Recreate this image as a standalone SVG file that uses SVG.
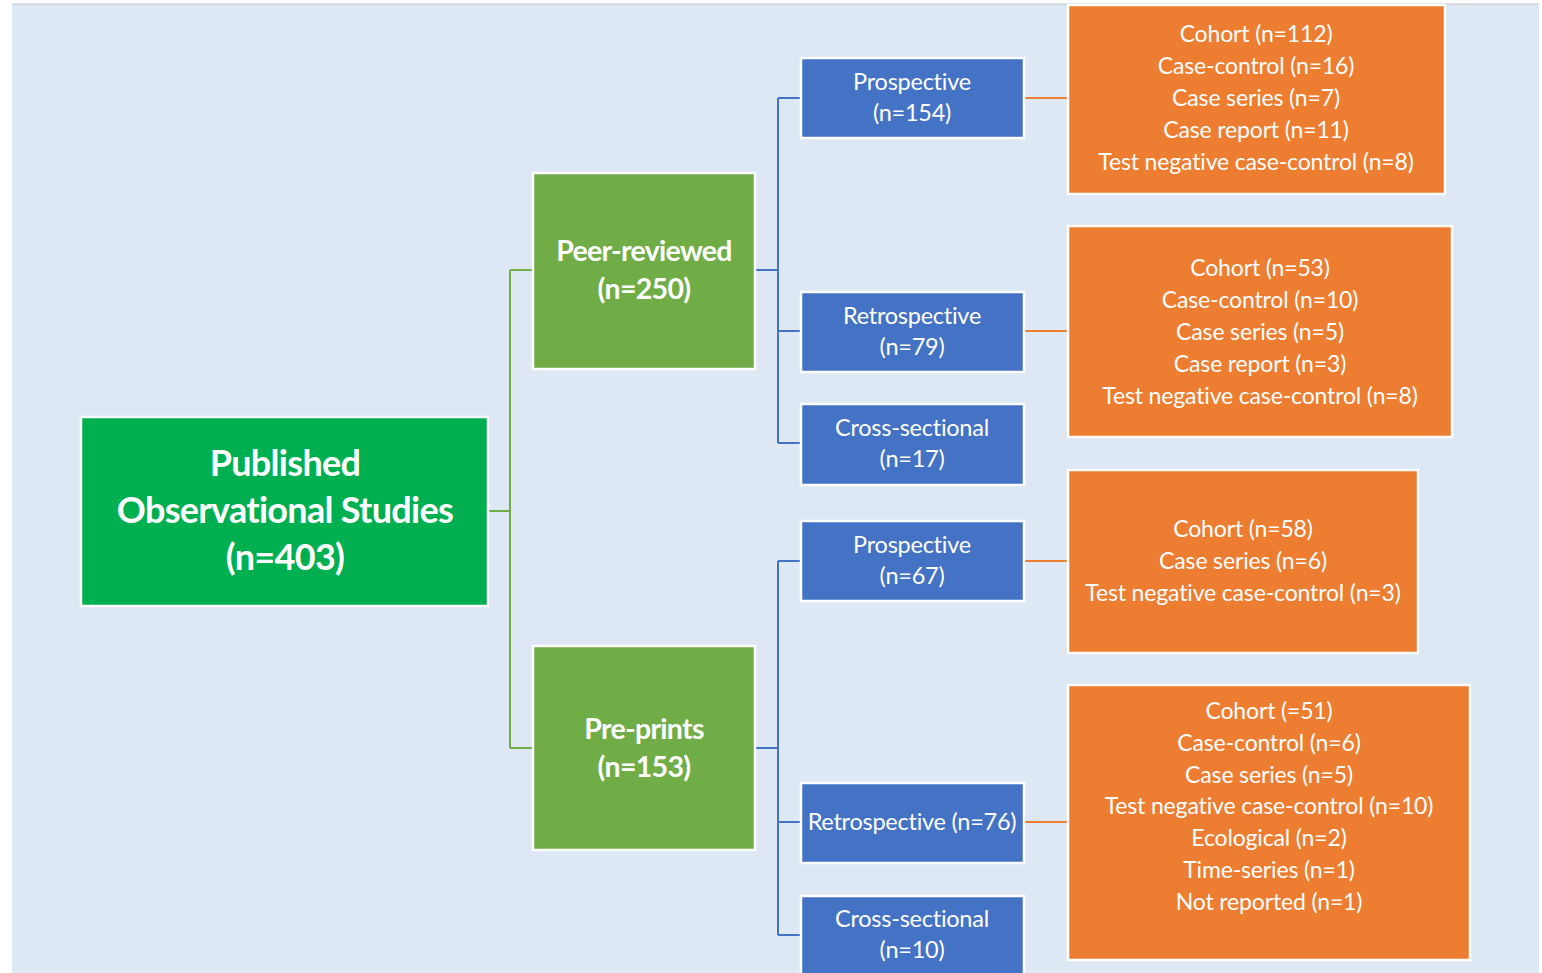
<svg xmlns="http://www.w3.org/2000/svg" width="1542" height="973" viewBox="0 0 1542 973">
  <style>
    .bg { fill: #dde8f4; }
    .box { stroke: #ffffff; stroke-width: 2.5; }
    .root { fill: #00b050; }
    .cat { fill: #70ad47; }
    .design { fill: #4472c4; }
    .types { fill: #ed7d31; }
    text { font-family: Lato, "Open Sans", "Liberation Sans", sans-serif; fill: #ffffff; text-anchor: middle; }
    .t-root { font-size: 36px; font-weight: bold; letter-spacing: -0.7px; }
    .t-cat { font-size: 28.5px; font-weight: bold; letter-spacing: -0.7px; }
    .t-design { font-size: 23.5px; letter-spacing: -0.25px; }
    .t-types { font-size: 23px; letter-spacing: -0.15px; }
    .c-green { stroke: #70ad47; stroke-width: 2; fill: none; }
    .c-blue { stroke: #4472c4; stroke-width: 2; fill: none; }
    .c-orange { stroke: #ed7d31; stroke-width: 2; fill: none; }
  </style>

  <!-- canvas -->
  <rect x="0" y="0" width="1542" height="973" fill="#ffffff"/>
  <rect class="bg" x="12" y="4" width="1527" height="969"/>
  <line x1="12" y1="4" x2="1539" y2="4" stroke="#c0c4c8" stroke-width="1"/>

  <!-- connectors -->
  <g id="connectors">
    <path class="c-green" d="M488 511 H510 M510 270 V748 M510 270 H533 M510 748 H533"/>
    <path class="c-blue" d="M755 270 H778 M778 98 V443 M778 98 H801 M778 331 H801 M778 443 H801"/>
    <path class="c-blue" d="M755 748 H778 M778 561 V935 M778 561 H801 M778 822 H801 M778 935 H801"/>
    <path class="c-orange" d="M1024 98 H1068 M1024 331 H1068 M1024 561 H1068 M1024 822 H1068"/>
  </g>

  <!-- root -->
  <g id="published">
    <rect class="box root" x="81" y="417" width="407" height="189"/>
    <text class="t-root" x="285" y="476">Published</text>
    <text class="t-root" x="285" y="523">Observational Studies</text>
    <text class="t-root" x="285" y="570">(n=403)</text>
  </g>

  <!-- publication status -->
  <g id="peer-reviewed">
    <rect class="box cat" x="533" y="173" width="222" height="196"/>
    <text class="t-cat" x="644" y="261">Peer-reviewed</text>
    <text class="t-cat" x="644" y="299">(n=250)</text>
  </g>
  <g id="pre-prints">
    <rect class="box cat" x="533" y="646" width="222" height="204"/>
    <text class="t-cat" x="644" y="739">Pre-prints</text>
    <text class="t-cat" x="644" y="777">(n=153)</text>
  </g>

  <!-- study timing -->
  <g id="peer-prospective">
    <rect class="box design" x="801" y="58" width="223" height="80"/>
    <text class="t-design" x="912" y="90">Prospective</text>
    <text class="t-design" x="912" y="121">(n=154)</text>
  </g>
  <g id="peer-retrospective">
    <rect class="box design" x="801" y="292" width="223" height="80"/>
    <text class="t-design" x="912" y="324">Retrospective</text>
    <text class="t-design" x="912" y="355">(n=79)</text>
  </g>
  <g id="peer-cross-sectional">
    <rect class="box design" x="801" y="404" width="223" height="81"/>
    <text class="t-design" x="912" y="436">Cross-sectional</text>
    <text class="t-design" x="912" y="467">(n=17)</text>
  </g>
  <g id="pre-prospective">
    <rect class="box design" x="801" y="521" width="223" height="80"/>
    <text class="t-design" x="912" y="553">Prospective</text>
    <text class="t-design" x="912" y="584">(n=67)</text>
  </g>
  <g id="pre-retrospective">
    <rect class="box design" x="801" y="783" width="223" height="80"/>
    <text class="t-design" x="912" y="830">Retrospective (n=76)</text>
  </g>
  <g id="pre-cross-sectional">
    <rect class="box design" x="801" y="896" width="223" height="90"/>
    <text class="t-design" x="912" y="927">Cross-sectional</text>
    <text class="t-design" x="912" y="958">(n=10)</text>
  </g>

  <!-- study types -->
  <g id="types-peer-prospective">
    <rect class="box types" x="1068" y="5" width="377" height="189"/>
    <text class="t-types" x="1256" y="42">Cohort (n=112)</text>
    <text class="t-types" x="1256" y="74">Case-control (n=16)</text>
    <text class="t-types" x="1256" y="106">Case series (n=7)</text>
    <text class="t-types" x="1256" y="138">Case report (n=11)</text>
    <text class="t-types" x="1256" y="170">Test negative case-control (n=8)</text>
  </g>
  <g id="types-peer-retrospective">
    <rect class="box types" x="1068" y="226" width="384" height="211"/>
    <text class="t-types" x="1260" y="276">Cohort (n=53)</text>
    <text class="t-types" x="1260" y="308">Case-control (n=10)</text>
    <text class="t-types" x="1260" y="340">Case series (n=5)</text>
    <text class="t-types" x="1260" y="372">Case report (n=3)</text>
    <text class="t-types" x="1260" y="404">Test negative case-control (n=8)</text>
  </g>
  <g id="types-pre-prospective">
    <rect class="box types" x="1068" y="470" width="350" height="183"/>
    <text class="t-types" x="1243" y="537">Cohort (n=58)</text>
    <text class="t-types" x="1243" y="569">Case series (n=6)</text>
    <text class="t-types" x="1243" y="601">Test negative case-control (n=3)</text>
  </g>
  <g id="types-pre-retrospective">
    <rect class="box types" x="1068" y="685" width="402" height="275"/>
    <text class="t-types" x="1269" y="719">Cohort (=51)</text>
    <text class="t-types" x="1269" y="751">Case-control (n=6)</text>
    <text class="t-types" x="1269" y="783">Case series (n=5)</text>
    <text class="t-types" x="1269" y="814">Test negative case-control (n=10)</text>
    <text class="t-types" x="1269" y="846">Ecological (n=2)</text>
    <text class="t-types" x="1269" y="878">Time-series (n=1)</text>
    <text class="t-types" x="1269" y="910">Not reported (n=1)</text>
  </g>
</svg>
